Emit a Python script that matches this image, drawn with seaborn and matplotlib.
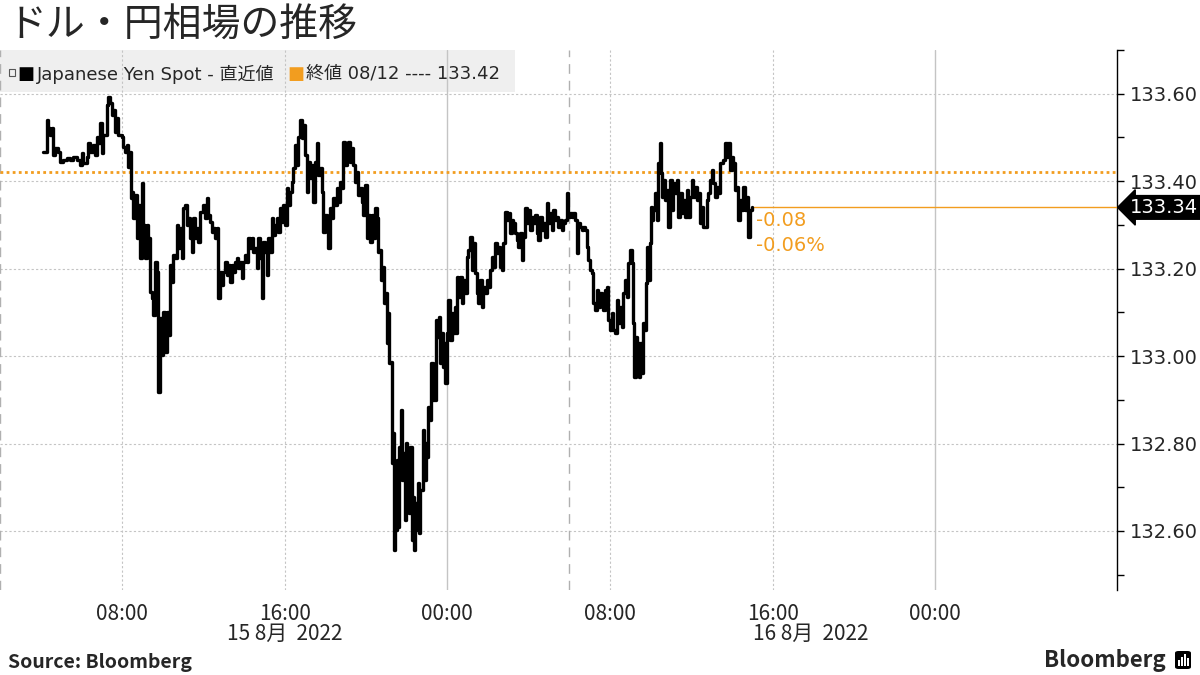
import pandas as pd
import matplotlib
matplotlib.use('Agg')
import matplotlib.pyplot as plt
import matplotlib.dates as mdates
from matplotlib.ticker import MultipleLocator, FormatStrFormatter
from matplotlib.patches import Rectangle, FancyBboxPatch
from matplotlib.transforms import blended_transform_factory
import seaborn as sns

# USD/JPY spot (Tokyo time)
day15_times = [
    '04:07', '04:19', '04:22', '04:28', '04:33', '04:36', '04:42', '04:51', '04:57', '05:06',
    '05:18', '05:27', '05:35', '05:47', '05:56', '06:02', '06:05', '06:17', '06:20', '06:26',
    '06:34', '06:40', '06:46', '06:49', '06:55', '07:01', '07:04', '07:10', '07:16', '07:19',
    '07:25', '07:30', '07:33', '07:39', '07:45', '07:48', '07:54', '08:00', '08:03', '08:09',
    '08:15', '08:18', '08:24', '08:27', '08:30', '08:32', '08:38', '08:44', '08:47', '08:53',
    '08:59', '09:02', '09:08', '09:14', '09:17', '09:23', '09:29', '09:32', '09:37', '09:43',
    '09:46', '09:52', '09:58', '10:01', '10:07', '10:13', '10:16', '10:22', '10:28', '10:31',
    '10:36', '10:42', '10:45', '10:51', '10:57', '11:00', '11:06', '11:12', '11:15', '11:21',
    '11:27', '11:30', '11:35', '11:41', '11:44', '11:50', '11:59', '12:05', '12:11', '12:14',
    '12:20', '12:26', '12:29', '12:34', '12:40', '12:43', '12:49', '12:55', '12:58', '13:04',
    '13:10', '13:13', '13:19', '13:25', '13:28', '13:33', '13:39', '13:42', '13:48', '13:54',
    '13:57', '14:03', '14:09', '14:12', '14:18', '14:24', '14:27', '14:32', '14:38', '14:41',
    '14:47', '14:53', '14:56', '15:02', '15:08', '15:11', '15:17', '15:23', '15:26', '15:31',
    '15:37', '15:40', '15:46', '15:52', '15:55', '16:01', '16:07', '16:10', '16:16', '16:22',
    '16:25', '16:30', '16:36', '16:39', '16:45', '16:51', '16:54', '17:00', '17:06', '17:09',
    '17:15', '17:21', '17:24', '17:30', '17:35', '17:38', '17:44', '17:50', '17:53', '17:59',
    '18:05', '18:08', '18:14', '18:20', '18:23', '18:29', '18:34', '18:37', '18:43', '18:49',
    '18:52', '18:58', '19:04', '19:07', '19:13', '19:19', '19:22', '19:28', '19:33', '19:36',
    '19:42', '19:48', '19:51', '19:57', '20:03', '20:06', '20:12', '20:18', '20:21', '20:27',
    '20:33', '20:35', '20:38', '20:44', '20:50', '20:53', '20:59', '21:02', '21:05', '21:08',
    '21:14', '21:17', '21:20', '21:23', '21:26', '21:31', '21:34', '21:37', '21:43', '21:46',
    '21:49', '21:55', '21:58', '22:01', '22:07', '22:10', '22:16', '22:19', '22:22', '22:25',
    '22:31', '22:34', '22:36', '22:39', '22:45', '22:48', '22:51', '22:57', '23:00', '23:03',
    '23:09', '23:12', '23:18', '23:21', '23:24', '23:27', '23:30', '23:35', '23:38', '23:41',
    '23:47', '23:50', '23:53', '23:59',
]
day15_prices = [
    133.467, 133.540, 133.522, 133.506, 133.522, 133.460, 133.476, 133.467, 133.444, 133.449,
    133.454, 133.449, 133.456, 133.449, 133.438, 133.465, 133.442, 133.456, 133.488, 133.467,
    133.483, 133.460, 133.502, 133.488, 133.534, 133.465, 133.506, 133.506, 133.575, 133.593,
    133.579, 133.552, 133.563, 133.513, 133.545, 133.506, 133.506, 133.502, 133.479, 133.467,
    133.483, 133.433, 133.467, 133.362, 133.376, 133.316, 133.369, 133.270, 133.346, 133.225,
    133.396, 133.300, 133.225, 133.300, 133.270, 133.147, 133.133, 133.094, 133.216, 133.193,
    132.918, 133.087, 133.003, 133.101, 133.010, 133.101, 133.049, 133.209, 133.170, 133.232,
    133.225, 133.300, 133.248, 133.293, 133.225, 133.339, 133.346, 133.300, 133.316, 133.270,
    133.238, 133.316, 133.270, 133.293, 133.261, 133.330, 133.346, 133.316, 133.362, 133.323,
    133.307, 133.284, 133.293, 133.270, 133.293, 133.133, 133.193, 133.163, 133.193, 133.216,
    133.186, 133.209, 133.170, 133.209, 133.193, 133.216, 133.225, 133.202, 133.216, 133.179,
    133.216, 133.232, 133.216, 133.270, 133.248, 133.270, 133.238, 133.248, 133.202, 133.270,
    133.225, 133.133, 133.261, 133.238, 133.186, 133.270, 133.238, 133.316, 133.277, 133.300,
    133.316, 133.284, 133.339, 133.307, 133.346, 133.300, 133.385, 133.346, 133.376, 133.399,
    133.431, 133.483, 133.438, 133.502, 133.540, 133.499, 133.529, 133.460, 133.376, 133.444,
    133.408, 133.438, 133.353, 133.444, 133.488, 133.415, 133.431, 133.376, 133.284, 133.323,
    133.307, 133.248, 133.339, 133.316, 133.362, 133.346, 133.385, 133.353, 133.399, 133.385,
    133.490, 133.438, 133.479, 133.490, 133.444, 133.476, 133.438, 133.399, 133.422, 133.369,
    133.385, 133.353, 133.323, 133.392, 133.270, 133.323, 133.261, 133.323, 133.270, 133.339,
    133.316, 133.238, 133.243, 133.174, 133.204, 133.122, 133.145, 133.030, 133.099, 132.985,
    132.987, 132.756, 132.824, 132.557, 132.602, 132.763, 132.609, 132.792, 132.877, 132.717,
    132.779, 132.625, 132.801, 132.733, 132.641, 132.792, 132.580, 132.678, 132.557, 132.664,
    132.602, 132.710, 132.596, 132.694, 132.694, 132.831, 132.717, 132.801, 132.769, 132.884,
    132.854, 132.985, 132.900, 132.968, 132.900, 133.083, 133.044, 133.090, 132.985, 133.053,
    132.975, 133.030, 132.939, 133.053,
]
day16_times = [
    '00:02', '00:08', '00:14', '00:17', '00:23', '00:26', '00:29', '00:32', '00:37', '00:43',
    '00:46', '00:52', '00:58', '01:01', '01:07', '01:13', '01:16', '01:22', '01:28', '01:31',
    '01:36', '01:42', '01:45', '01:51', '01:57', '02:00', '02:06', '02:12', '02:15', '02:21',
    '02:27', '02:30', '02:35', '02:41', '02:44', '02:50', '02:56', '02:59', '03:05', '03:11',
    '03:14', '03:20', '03:26', '03:29', '03:35', '03:40', '03:43', '03:49', '03:55', '03:58',
    '04:04', '04:10', '04:13', '04:19', '04:25', '04:28', '04:34', '04:39', '04:42', '04:48',
    '04:54', '04:57', '05:03', '05:09', '05:12', '05:18', '05:24', '05:27', '05:33', '05:38',
    '05:41', '05:47', '05:53', '05:56', '06:02', '06:08', '06:11', '06:17', '06:23', '06:26',
    '06:32', '06:37', '06:40', '06:46', '06:52', '06:55', '07:01', '07:07', '07:10', '07:16',
    '07:22', '07:25', '07:31', '07:36', '07:39', '07:45', '07:51', '07:54', '08:00', '08:06',
    '08:09', '08:15', '08:21', '08:24', '08:30', '08:36', '08:38', '08:44', '08:50', '08:53',
    '08:59', '09:05', '09:08', '09:11', '09:17', '09:20', '09:23', '09:26', '09:29', '09:35',
    '09:37', '09:40', '09:46', '09:49', '09:52', '09:58', '10:01', '10:04', '10:07', '10:13',
    '10:19', '10:22', '10:28', '10:31', '10:34', '10:36', '10:42', '10:48', '10:51', '10:57',
    '11:03', '11:06', '11:12', '11:18', '11:21', '11:27', '11:33', '11:35', '11:41', '11:47',
    '11:50', '11:56', '12:02', '12:05', '12:11', '12:17', '12:20', '12:26', '12:32', '12:34',
    '12:40', '12:46', '12:49', '12:55', '13:01', '13:04', '13:10', '13:16', '13:19', '13:25',
    '13:31', '13:34', '13:40', '13:45', '13:48', '13:54', '14:00', '14:03', '14:09', '14:15',
    '14:18', '14:24', '14:30', '14:33', '14:38', '14:44', '14:47', '14:53', '14:59',
]
day16_prices = [
    133.129, 133.037, 133.099, 133.053, 133.113, 133.053, 133.181, 133.135, 133.181, 133.122,
    133.174, 133.145, 133.227, 133.243, 133.273, 133.197, 133.259, 133.190, 133.145, 133.122,
    133.174, 133.113, 133.158, 133.145, 133.174, 133.158, 133.197, 133.227, 133.204, 133.259,
    133.236, 133.250, 133.204, 133.197, 133.259, 133.330, 133.312, 133.328, 133.282, 133.312,
    133.305, 133.282, 133.266, 133.250, 133.282, 133.220, 133.273, 133.339, 133.305, 133.335,
    133.289, 133.319, 133.305, 133.323, 133.282, 133.266, 133.319, 133.289, 133.305, 133.273,
    133.351, 133.305, 133.328, 133.289, 133.335, 133.312, 133.319, 133.296, 133.312, 133.289,
    133.305, 133.312, 133.373, 133.319, 133.328, 133.319, 133.328, 133.312, 133.236, 133.305,
    133.296, 133.289, 133.296, 133.289, 133.250, 133.220, 133.197, 133.190, 133.122, 133.106,
    133.151, 133.113, 133.145, 133.122, 133.106, 133.151, 133.158, 133.083, 133.060, 133.099,
    133.060, 133.053, 133.129, 133.076, 133.113, 133.067, 133.145, 133.174, 133.135, 133.213,
    133.243, 133.213, 133.076, 132.952, 133.044, 132.985, 133.030, 132.952, 133.030, 132.962,
    133.076, 133.060, 133.168, 133.250, 133.174, 133.259, 133.341, 133.312, 133.335, 133.373,
    133.312, 133.442, 133.488, 133.419, 133.364, 133.403, 133.357, 133.380, 133.296, 133.403,
    133.335, 133.396, 133.373, 133.403, 133.319, 133.373, 133.328, 133.357, 133.319, 133.380,
    133.319, 133.364, 133.403, 133.364, 133.387, 133.357, 133.373, 133.305, 133.341, 133.296,
    133.296, 133.357, 133.373, 133.403, 133.426, 133.396, 133.364, 133.387, 133.373, 133.442,
    133.442, 133.449, 133.488, 133.456, 133.488, 133.426, 133.456, 133.442, 133.380, 133.387,
    133.312, 133.357, 133.335, 133.387, 133.335, 133.364, 133.273, 133.335, 133.340,
]
prev_close = 133.42
prev_close_date = '08/12'

ORANGE = '#f29d1f'
GRID = '#c4c4c4'
NARROW = ['Liberation Sans Narrow', 'Noto Sans CJK JP', 'DejaVu Sans']

sns.set_style('white')
plt.rcParams['font.family'] = ['DejaVu Sans', 'Noto Sans CJK JP']

df = pd.DataFrame({
    'time': pd.to_datetime(['2022-08-15 ' + t for t in day15_times]
                           + ['2022-08-16 ' + t for t in day16_times]),
    'price': day15_prices + day16_prices,
})
last = df['price'].iloc[-1]
last_time = df['time'].iloc[-1]
chg = last - prev_close
pct = chg / prev_close * 100

x_start = pd.Timestamp('2022-08-15 02:00')
x_end = pd.Timestamp('2022-08-17 08:56')

fig = plt.figure(figsize=(12, 6.75), dpi=100)
ax = fig.add_axes([0, 85 / 675, 1117 / 1200, 540 / 675])

sns.lineplot(data=df, x='time', y='price', ax=ax, color='black', linewidth=2.4,
             drawstyle='steps-post', estimator=None, zorder=5)

ax.set_xlim(x_start, x_end)
ax.set_ylim(132.465, 133.70)
ax.set_xlabel('')
ax.set_ylabel('')

# y axis on the right
ax.yaxis.tick_right()
ax.yaxis.set_major_locator(MultipleLocator(0.2))
ax.yaxis.set_minor_locator(MultipleLocator(0.1))
ax.yaxis.set_major_formatter(FormatStrFormatter('%.2f'))
ax.tick_params(axis='y', which='both', direction='out', length=5, width=1,
               color='black', labelsize=14, pad=4, right=True, left=False)
for s in ['top', 'left', 'bottom']:
    ax.spines[s].set_visible(False)
ax.spines['right'].set_color('black')
ax.spines['right'].set_linewidth(1)

# x axis: every 8 hours up to the last midnight
xticks = pd.date_range('2022-08-15 08:00', '2022-08-17 00:00', freq='8h')
ax.set_xticks(xticks)
ax.xaxis.set_major_formatter(mdates.DateFormatter('%H:%M'))
ax.tick_params(axis='x', length=0, pad=9, labelsize=15, labelfontfamily=NARROW)

# grid
ax.set_axisbelow(True)
ax.yaxis.grid(True, color=GRID, linestyle=(0, (2, 2)), linewidth=0.8)
for t in xticks:
    if t.hour == 0:
        ax.axvline(t, color=GRID, linewidth=1, zorder=1)
    else:
        ax.axvline(t, color=GRID, linestyle=(0, (2, 2)), linewidth=0.8, zorder=1)
for t in [x_start, pd.Timestamp('2022-08-16 06:00')]:
    ax.axvline(t, color='#b0b0b0', linestyle=(0, (7, 5)), linewidth=1, zorder=1)

# date labels under the time ticks
tr = blended_transform_factory(ax.transData, ax.transAxes)
ax.text(pd.Timestamp('2022-08-15 16:00'), -0.082, '15 8月  2022', transform=tr,
        ha='center', va='center', fontsize=15, family=NARROW)
ax.text(pd.Timestamp('2022-08-16 17:52'), -0.082, '16 8月  2022', transform=tr,
        ha='center', va='center', fontsize=15, family=NARROW)

# previous close and last value
ax.axhline(prev_close, color=ORANGE, linestyle=(0, (1, 1.2)), linewidth=2, zorder=3)
ax.hlines(last, last_time, x_end, color=ORANGE, linewidth=1, zorder=3, clip_on=False)
ax.annotate(f'{last:.2f}', xy=(1, last), xycoords=('axes fraction', 'data'),
            xytext=(13, 0), textcoords='offset pixels', ha='left', va='center',
            color='white', fontsize=14, annotation_clip=False,
            bbox=dict(boxstyle='larrow,pad=0.12', fc='black', ec='black'))
ax.annotate(f'{chg:+.2f}'.replace('+', ''), xy=(last_time, last), xytext=(4, -13),
            textcoords='offset pixels', ha='left', va='center', color=ORANGE, fontsize=14)
ax.annotate(f'{pct:.2f}%', xy=(last_time, last), xytext=(4, -38),
            textcoords='offset pixels', ha='left', va='center', color=ORANGE, fontsize=14)

# legend band
ax.add_patch(Rectangle((0, (590 - 92) / 540), 515 / 1117, 1 - (590 - 92) / 540,
                       transform=ax.transAxes, facecolor='#efefef', edgecolor='none',
                       zorder=0.2))
ly = 1 - 74 / 675
fig.patches.append(Rectangle((9 / 1200, 1 - 76 / 675), 6 / 1200, 7 / 675,
                             transform=fig.transFigure, fill=False, edgecolor='#555555',
                             linewidth=0.8))
fig.text(17 / 1200, ly, '■', color='black', fontsize=13, va='center')
fig.text(37 / 1200, ly, 'Japanese Yen Spot - 直近値', fontsize=13, va='center')
fig.text(287 / 1200, ly, '■', color=ORANGE, fontsize=13, va='center')
fig.text(306 / 1200, ly, f'終値 {prev_close_date} ---- {prev_close:.2f}', fontsize=13,
         va='center')

# title and footer
fig.text(7 / 1200, 1 - 26 / 675, 'ドル・円相場の推移', fontsize=28, va='center',
         family=['Noto Sans CJK JP'])
fig.text(8 / 1200, 1 - 662 / 675, 'Source: Bloomberg', fontsize=14, fontweight='bold',
         va='center', family=NARROW)
fig.text(1166 / 1200, 1 - 660 / 675, 'Bloomberg', fontsize=16, fontweight='bold',
         va='center', ha='right', family=NARROW)
fig.patches.append(FancyBboxPatch((1175 / 1200, 1 - 669 / 675), 16 / 1200, 18 / 675,
                                  boxstyle='round,pad=0,rounding_size=0.003',
                                  transform=fig.transFigure, facecolor='black',
                                  edgecolor='none'))
for i, h in enumerate([6, 9, 12, 8]):
    fig.patches.append(Rectangle(((1178 + i * 3) / 1200, 1 - 666 / 675), 1.5 / 1200, h / 675,
                                 transform=fig.transFigure, facecolor='white',
                                 edgecolor='none'))

fig.savefig('out.png', dpi=100)
